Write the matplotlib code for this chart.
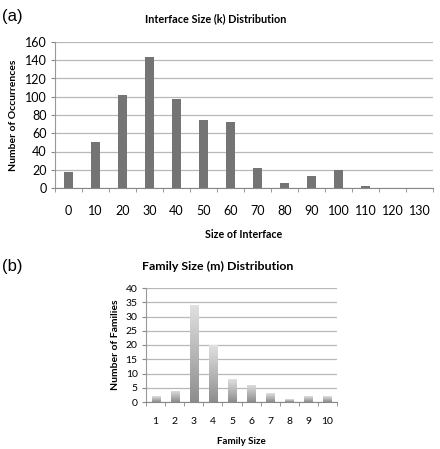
import matplotlib
matplotlib.use("Agg")
import matplotlib.pyplot as plt
import numpy as np

# Dữ liệu
interface_sizes = ["0", "10", "20", "30", "40", "50", "60", "70", "80", "90", "100", "110", "120", "130"]
interface_counts = [18, 50, 102, 144, 97, 75, 72, 22, 6, 13, 20, 2, 0, 0]
family_sizes = ["1", "2", "3", "4", "5", "6", "7", "8", "9", "10"]
family_counts = [2, 4, 34, 20, 8, 6, 3, 1, 2, 2]

plt.rcParams["font.family"] = ["Lato", "DejaVu Sans"]
GRID = "#b8b8b8"


def style_axes(ax, n, ymax, step, fs):
    ax.set_xlim(-0.5, n - 0.5)
    ax.set_ylim(0, ymax)
    ax.set_yticks(np.arange(0, ymax + 1, step))
    ax.set_xticks(range(n))
    ax.set_xticks(np.arange(-0.5, n, 1), minor=True)
    ax.tick_params(axis="x", which="major", length=0, pad=fs + 3, labelsize=fs)
    ax.tick_params(axis="x", which="minor", length=3, color="#888888", direction="out")
    ax.tick_params(axis="y", length=3, color="#888888", labelsize=fs, pad=3)
    ax.yaxis.grid(True, color=GRID, linewidth=0.9)
    ax.set_axisbelow(True)
    for s in ["top", "right"]:
        ax.spines[s].set_visible(False)
    ax.spines["left"].set_color("#999999")
    ax.spines["bottom"].set_color("#888888")


fig = plt.figure(figsize=(4.40, 4.49), dpi=100)

# (a)
ax1 = fig.add_axes([55 / 440, 1 - 188 / 449, (433 - 55) / 440, (188 - 42) / 449])
x1 = np.arange(len(interface_sizes))
ax1.bar(x1, interface_counts, width=0.37, color="#747474", zorder=2)
ax1.set_xticklabels(interface_sizes)
style_axes(ax1, len(interface_sizes), 160, 20, 9)
ax1.set_ylabel("Number of Occurrences", fontsize=7.5, fontweight="bold", labelpad=5)
ax1.set_xlabel("Size of Interface", fontsize=7.7, fontweight="bold", labelpad=9)
fig.text(216 / 440, 1 - 19 / 449, "Interface Size (k) Distribution", fontsize=7.8,
         fontweight="bold", ha="center", va="center")
fig.text(2 / 440, 1 - 17 / 449, "(a)", fontsize=12, family=["Liberation Sans"],
         ha="left", va="center")

# (b)
ax2 = fig.add_axes([146 / 440, 1 - 402 / 449, (337 - 146) / 440, (402 - 288) / 449])
x2 = np.arange(len(family_sizes))
bars = ax2.bar(x2, family_counts, width=0.42, color="none", zorder=2)
grad = np.linspace(0.55, 0.88, 256).reshape(-1, 1)
for b in bars:
    bx, by = b.get_x(), b.get_y()
    im = ax2.imshow(grad, cmap="gray", vmin=0, vmax=1, aspect="auto", origin="lower",
                    extent=[bx, bx + b.get_width(), by, by + b.get_height()], zorder=2)
    im.set_clip_path(b)
ax2.set_xticklabels(family_sizes)
style_axes(ax2, len(family_sizes), 40, 5, 7.5)
ax2.set_aspect("auto")
ax2.set_ylabel("Number of Families", fontsize=7.5, fontweight="bold", labelpad=4)
ax2.set_xlabel("Family Size", fontsize=7, fontweight="bold", labelpad=8)
fig.text(218 / 440, 1 - 266 / 449, "Family Size (m) Distribution", fontsize=8.9,
         fontweight="bold", ha="center", va="center")
fig.text(2 / 440, 1 - 266 / 449, "(b)", fontsize=12, family=["Liberation Sans"],
         ha="left", va="center")

fig.savefig("out.png", dpi=100)
